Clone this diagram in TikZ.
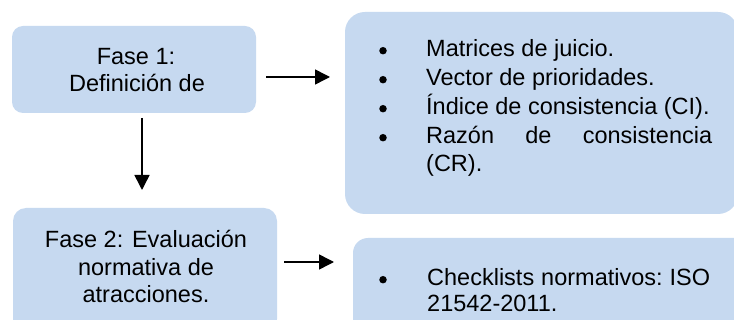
\documentclass[tikz,border=0pt]{standalone}
\usepackage{fontspec}
\setmainfont{Liberation Sans}
\usetikzlibrary{arrows.meta}
\definecolor{boxblue}{HTML}{C6D9F0}
\begin{document}
\begin{tikzpicture}[x=1pt,y=-1pt,
  boxshape/.style={fill=boxblue, draw=none, inner sep=0pt, outer sep=0pt},
  txt/.style={anchor=base, inner sep=0pt, font=\fontsize{23.5}{27}\selectfont},
  ltxt/.style={txt, anchor=base west},
  bul/.style={circle, fill=black, inner sep=0pt, minimum size=7.5pt},
  arr/.style={line width=1.5pt, -{Triangle[length=15pt,width=15pt]}}]
\clip (0,0) rectangle (734,320);
\fill[white] (0,0) rectangle (734,320);
% boxes
\node[boxshape, rounded corners=11pt, minimum width=244pt, minimum height=87pt] (b1) at (134,69.5) {};
\node[boxshape, rounded corners=20pt, minimum width=393pt, minimum height=202pt] (b2) at (541.5,113) {};
\node[boxshape, rounded corners=13pt, minimum width=264pt, minimum height=124pt] (b3) at (145,270) {};
\node[boxshape, rounded corners=15pt, minimum width=407pt, minimum height=102pt] (b4) at (556.5,289) {};
% texts in left boxes
\node[txt] (t1a) at (136,65) {Fase 1:};
\node[txt] (t1b) at (137,92) {Definición de};
\node[txt] (t3a) at (146,248) {Fase 2: Evaluación};
\node[txt] (t3b) at (146,276) {normativa de};
\node[txt] (t3c) at (146,303) {atracciones.};
% list in box 2
\node[bul] (p1) at (383,50.7) {};
\node[bul] (p2) at (383,79.7) {};
\node[bul] (p3) at (383,108.7) {};
\node[bul] (p4) at (383,137.7) {};
\node[ltxt] (l1) at (426,57) {Matrices de juicio.};
\node[ltxt] (l2) at (426,86) {Vector de prioridades.};
\node[ltxt] (l3) at (426,115) {Índice de consistencia (CI).};
\node[ltxt] (l4) at (426,144) {\makebox[286pt][s]{Razón\hfill de\hfill consistencia}};
\node[ltxt] (l5) at (426,172) {(CR).};
% list in box 4
\node[bul] (p5) at (383,279.7) {};
\node[ltxt] (m1) at (427,286) {\makebox[283pt][s]{Checklists\hfill normativos:\hfill ISO}};
\node[ltxt] (m2) at (427,312) {21542-2011.};
% connectors
\coordinate (a1s) at ([xshift=10pt,yshift=-7.5pt]b1.east);
\draw[arr, shorten >=15pt] (a1s) -- (a1s -| b2.west);
\coordinate (v1s) at ([xshift=8pt,yshift=-5pt]b1.south);
\draw[arr, shorten >=18pt] (v1s) -- (v1s |- b3.north);
\coordinate (a2s) at ([xshift=7pt,yshift=8pt]b3.east);
\draw[arr, shorten >=19pt] (a2s) -- (a2s -| b4.west);
\end{tikzpicture}
\end{document}
